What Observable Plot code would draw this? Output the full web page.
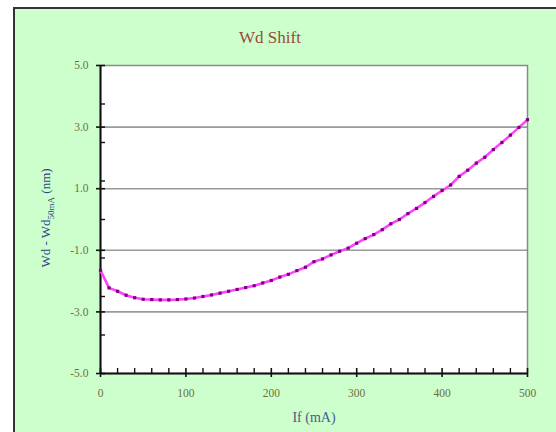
<!DOCTYPE html>
<html><head><meta charset="utf-8">
<script src="https://cdn.jsdelivr.net/npm/d3@7"></script>
<script src="https://cdn.jsdelivr.net/npm/@observablehq/plot@0.6"></script>
<style>
body{margin:0;background:#fff;}
#wrap{position:relative;width:556px;height:432px;overflow:hidden;background:#fff;}
#panel{position:absolute;left:13px;top:7px;width:600px;height:500px;background:#ccffcc;border-left:2px solid #333;border-top:2px solid #333;}
#chart{position:absolute;left:0;top:0;}
.t{position:absolute;font-family:"Liberation Serif","Times New Roman",serif;white-space:nowrap;transform:translate(-50%,-50%);}
#title{left:270px;top:38px;font-size:17px;color:#9a4a3a;}
#xlab{left:314px;top:418px;font-size:14px;color:#4a5a8a;}
#ylab{left:47px;top:218px;font-size:13px;color:#33448a;transform:translate(-50%,-50%) rotate(-90deg);}
#ylab sub{font-size:9px;}
</style></head><body>
<div id="wrap"><div id="panel"></div><div id="chart"></div>
<div class="t" id="title">Wd Shift</div>
<div class="t" id="xlab">If (mA)</div>
<div class="t" id="ylab">Wd - Wd<sub>50mA</sub> (nm)</div>
</div>
<script>
const current = [0,10,20,30,40,50,60,70,80,90,100,110,120,130,140,150,160,170,180,190,200,210,220,230,240,250,260,270,280,290,300,310,320,330,340,350,360,370,380,390,400,410,420,430,440,450,460,470,480,490,500];
const shift = [-1.65,-2.22,-2.33,-2.46,-2.54,-2.59,-2.60,-2.61,-2.61,-2.60,-2.58,-2.55,-2.50,-2.45,-2.39,-2.33,-2.27,-2.21,-2.15,-2.06,-1.98,-1.87,-1.78,-1.66,-1.55,-1.37,-1.28,-1.15,-1.03,-0.93,-0.77,-0.62,-0.49,-0.33,-0.14,0.0,0.19,0.36,0.55,0.75,0.94,1.12,1.40,1.60,1.83,2.02,2.27,2.50,2.74,2.99,3.24];
const xMajor = [0,100,200,300,400,500];
const xMinor = [20,40,60,80,120,140,160,180,220,240,260,280,320,340,360,380,420,440,460,480];
const yMajor = [-5,-3,-1,1,3,5];
const yMinor = [-3.75,-2.5,-1.25,0,1.25,2.5,3.75];
const yGrid = [-3,-1,1,3];

const data = current.map((c,i)=>({c, v: shift[i]}));
const W = 556, H = 432, mL = 100, mR = 29, mT = 65, mB = 59;
const pw = W - mL - mR, ph = H - mT - mB;
const tickColor = "#6e7040";

const chart = Plot.plot({
  width: W, height: H,
  marginLeft: mL, marginRight: mR, marginTop: mT, marginBottom: mB,
  style: {background: "transparent", fontFamily: "'Liberation Serif', serif", fontSize: "11.5px", overflow: "visible"},
  x: {domain: [0, 500]},
  y: {domain: [-5, 5]},
  marks: [
    Plot.frame({fill: "white", stroke: null}),
    Plot.ruleY(yGrid, {stroke: "#9a9a9a", strokeWidth: 1.6}),
    Plot.frame({stroke: "#8a8a8a", strokeWidth: 1.5}),
    Plot.ruleX([0], {stroke: "#111", strokeWidth: 2}),
    Plot.ruleY([-5], {stroke: "#111", strokeWidth: 2}),
    Plot.tickY(yMajor, {y: d => d, insetRight: pw - 9, dx: -4, stroke: "#111", strokeWidth: 1.6}),
    Plot.tickY(yMinor, {y: d => d, insetRight: pw - 5, stroke: "#111", strokeWidth: 1.4}),
    Plot.tickX(xMajor, {x: d => d, insetTop: ph - 9, dy: 4, stroke: "#111", strokeWidth: 1.6}),
    Plot.tickX(xMinor, {x: d => d, insetTop: ph - 5, stroke: "#111", strokeWidth: 1.4}),
    Plot.axisY({ticks: yMajor, tickSize: 0, tickPadding: 12, tickFormat: d => d.toFixed(1), color: tickColor, label: null, fontSize: 11.5}),
    Plot.axisX({ticks: xMajor, tickSize: 0, tickPadding: 15, tickFormat: d => String(d), color: tickColor, label: null, fontSize: 11.5}),
    Plot.line(data, {x: "c", y: "v", stroke: "#ff44ff", strokeWidth: 2.6}),
    Plot.dot(data, {x: "c", y: "v", symbol: "square", r: 1.8, fill: "#800080", stroke: null})
  ]
});
document.getElementById("chart").appendChild(chart);
</script>
</body></html>
